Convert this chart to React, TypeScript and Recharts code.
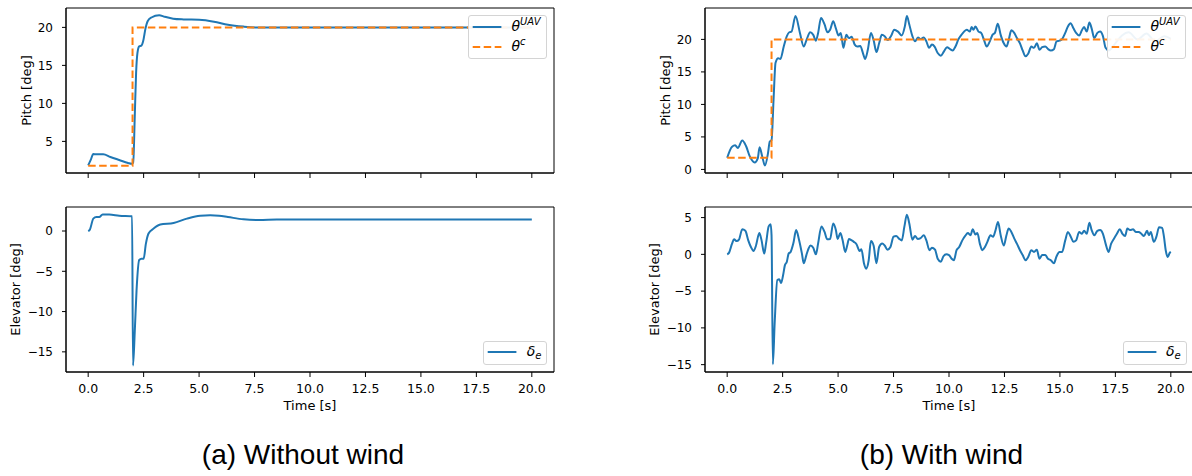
import React from 'react'
import { LineChart, Line, XAxis, YAxis, ReferenceArea } from 'recharts'

const BLUE = '#1f77b4'
const ORANGE = '#ff7f0e'
const FONT = '"DejaVu Sans", sans-serif'

const timeTicks = [0, 2.5, 5, 7.5, 10, 12.5, 15, 17.5, 20]
const timeDomain = [-1, 21]

// (a) without wind
const calmPitchTime = [0, 0.12, 0.23, 0.37, 0.55, 0.68, 1.0, 1.4, 1.8, 1.95, 2.03, 2.1, 2.16, 2.22, 2.3, 2.4, 2.48, 2.58, 2.68, 2.85, 3.2, 3.45, 3.83, 4.3, 5.0, 5.67, 6.3, 7.0, 7.7, 8.5, 10, 12.5, 15, 17.5, 20]
const calmPitch = [1.84, 2.6, 3.34, 3.3, 3.3, 3.3, 2.95, 2.55, 2.16, 2.05, 2.2, 8.3, 14.0, 16.6, 17.5, 17.6, 18.2, 19.8, 20.8, 21.3, 21.6, 21.4, 21.15, 21.05, 21.0, 20.75, 20.35, 20.1, 19.97, 19.97, 20, 20, 20, 20, 20]
const calmCmdTime = [0, 2, 2, 20]
const calmCmd = [1.8, 1.8, 20, 20]
const calmElevTime = [0, 0.08, 0.23, 0.37, 0.5, 0.65, 0.95, 1.4, 1.98, 2.02, 2.1, 2.18, 2.3, 2.4, 2.5, 2.6, 2.72, 2.95, 3.25, 3.85, 4.45, 5.05, 5.5, 5.9, 6.3, 7.0, 7.7, 8.5, 10, 12.5, 15, 17.5, 20]
const calmElev = [0, 0.2, 1.54, 1.74, 1.74, 2.04, 2.04, 1.9, 1.83, -16.7, -12.5, -7.4, -3.6, -3.45, -3.45, -1.6, -0.3, 0.3, 0.8, 1.0, 1.54, 1.9, 1.95, 1.9, 1.74, 1.45, 1.37, 1.42, 1.43, 1.43, 1.43, 1.43, 1.43]

// (b) with wind
const windPitchTime = [0, 0.22, 0.36, 0.48, 0.68, 0.85, 1.02, 1.24, 1.38, 1.46, 1.58, 1.7, 1.84, 1.92, 2.0, 2.09, 2.18, 2.3, 2.4, 2.55, 2.69, 2.8, 2.9, 3.08, 3.28, 3.45, 3.59, 3.74, 3.88, 4.0, 4.1, 4.23, 4.39, 4.52, 4.64, 4.78, 4.9, 5.02, 5.12, 5.24, 5.37, 5.49, 5.61, 5.75, 5.87, 6.0, 6.12, 6.22, 6.34, 6.48, 6.6, 6.73, 6.85, 6.97, 7.1, 7.24, 7.4, 7.53, 7.7, 7.87, 8.01, 8.1, 8.21, 8.35, 8.47, 8.6, 8.72, 8.86, 8.98, 9.1, 9.23, 9.35, 9.49, 9.63, 9.78, 9.91, 10.05, 10.17, 10.29, 10.43, 10.56, 10.68, 10.8, 10.94, 11.02, 11.1, 11.19, 11.33, 11.45, 11.58, 11.7, 11.84, 11.96, 12.07, 12.2, 12.33, 12.47, 12.59, 12.69, 12.81, 12.94, 13.06, 13.2, 13.32, 13.45, 13.57, 13.71, 13.83, 13.96, 14.08, 14.2, 14.34, 14.47, 14.59, 14.73, 14.85, 14.98, 15.1, 15.24, 15.36, 15.48, 15.61, 15.73, 15.87, 15.99, 16.09, 16.21, 16.33, 16.43, 16.55, 16.69, 16.81, 16.94, 17.06, 17.2, 17.5, 17.8, 18.1, 18.5, 18.9, 19.3, 19.7, 20.0]
const windPitch = [1.8, 3.5, 3.7, 3.3, 4.46, 3.6, 2.0, 1.08, 1.7, 3.4, 2.0, 0.6, 2.5, 4.3, 4.5, 10.7, 16.4, 17.1, 17.0, 18.9, 20.5, 21.1, 21.2, 23.6, 21.0, 18.9, 20.05, 21.1, 20.7, 19.8, 21.0, 23.3, 22.3, 21.1, 21.5, 22.8, 21.7, 20.6, 21.0, 18.7, 20.7, 20.2, 20.4, 19.2, 18.9, 19.0, 17.9, 17.0, 18.4, 21.0, 19.9, 18.05, 19.4, 20.7, 20.5, 19.9, 20.6, 21.5, 21.2, 20.6, 22.0, 23.6, 22.3, 20.5, 19.7, 20.3, 20.05, 20.3, 19.7, 18.7, 19.2, 18.9, 17.9, 17.5, 18.2, 18.8, 18.5, 18.3, 18.9, 20.05, 20.7, 21.2, 21.5, 21.2, 21.9, 21.5, 22.0, 21.2, 21.0, 19.9, 18.9, 19.7, 20.7, 21.0, 22.4, 20.7, 19.4, 18.9, 19.9, 21.4, 21.0, 20.2, 19.4, 18.3, 17.4, 17.8, 18.9, 18.7, 19.4, 18.4, 18.8, 18.9, 18.5, 18.3, 18.5, 19.7, 19.8, 20.05, 21.0, 22.0, 22.5, 21.7, 21.0, 20.6, 21.4, 21.9, 21.2, 22.6, 21.7, 20.2, 21.0, 21.2, 20.5, 18.7, 18.3, 19.4, 20.6, 21.1, 20.0, 20.9, 19.7, 20.5, 20.1]
const windCmdTime = [0, 2, 2, 20]
const windCmd = [1.8, 1.8, 20, 20]
const windElevTime = [0, 0.08, 0.22, 0.31, 0.43, 0.53, 0.68, 0.82, 0.95, 1.07, 1.19, 1.29, 1.45, 1.55, 1.67, 1.75, 1.87, 1.96, 2.0, 2.06, 2.14, 2.26, 2.35, 2.43, 2.52, 2.6, 2.69, 2.77, 2.86, 2.98, 3.11, 3.23, 3.37, 3.45, 3.57, 3.67, 3.76, 3.88, 4.0, 4.1, 4.25, 4.39, 4.51, 4.64, 4.78, 4.9, 4.98, 5.1, 5.2, 5.32, 5.41, 5.49, 5.61, 5.71, 5.83, 5.97, 6.05, 6.17, 6.26, 6.38, 6.48, 6.6, 6.73, 6.85, 6.99, 7.1, 7.23, 7.36, 7.5, 7.62, 7.76, 7.87, 7.99, 8.1, 8.21, 8.35, 8.47, 8.59, 8.72, 8.86, 8.98, 9.12, 9.23, 9.37, 9.49, 9.63, 9.75, 9.88, 10.0, 10.12, 10.22, 10.34, 10.46, 10.6, 10.73, 10.85, 10.97, 11.07, 11.19, 11.28, 11.39, 11.5, 11.62, 11.73, 11.87, 11.99, 12.09, 12.21, 12.33, 12.47, 12.59, 12.69, 12.81, 12.95, 13.06, 13.2, 13.32, 13.45, 13.57, 13.71, 13.83, 13.96, 14.08, 14.2, 14.34, 14.46, 14.59, 14.73, 14.85, 14.98, 15.1, 15.24, 15.36, 15.49, 15.61, 15.73, 15.87, 15.99, 16.09, 16.21, 16.33, 16.43, 16.55, 16.69, 16.81, 16.94, 17.06, 17.19, 17.31, 17.43, 17.57, 17.7, 17.82, 17.94, 18.04, 18.16, 18.3, 18.42, 18.55, 18.67, 18.79, 18.93, 19.01, 19.1, 19.23, 19.35, 19.47, 19.61, 19.69, 19.77, 19.86, 19.95, 20.0]
const windElev = [0, 0.2, 1.46, 2.05, 1.8, 2.0, 3.4, 3.2, 1.9, 1.0, 0.46, 1.1, 2.9, 1.9, 0.1, 1.46, 3.8, 4.1, 2.6, -14.95, -9.4, -3.5, -3.4, -3.9, -2.85, -1.5, -1.0, 0.1, 0.33, 1.46, 3.3, 2.1, 0.1, -1.2, -0.1, 0.8, 1.2, 0.9, 0.0, 1.5, 3.8, 3.05, 2.05, 2.1, 4.2, 3.3, 2.1, 2.9, 2.0, 0.33, 1.2, 2.1, 1.9, 1.7, 1.37, 0.46, 0.7, -1.26, -1.95, -0.8, 1.8, 1.2, -1.2, 1.0, 1.46, 1.2, 0.64, 1.0, 2.4, 2.5, 2.1, 1.9, 3.8, 5.4, 4.2, 2.0, 2.5, 2.1, 2.2, 2.6, 1.9, 0.56, 0.9, 0.64, -0.6, -1.0, -0.26, 0.0, -0.1, -0.6, -0.8, 0.56, 1.0, 1.9, 2.5, 2.9, 2.6, 3.4, 2.7, 2.9, 1.46, 0.56, 1.0, 1.7, 2.6, 2.4, 3.2, 4.4, 2.6, 1.2, 2.6, 3.5, 3.05, 2.1, 1.46, 0.56, -0.1, -0.8, -0.35, 0.56, 0.33, 0.64, -0.6, -0.1, -0.1, -0.6, -0.8, -1.2, -0.26, 0.33, 0.33, 1.9, 3.05, 2.4, 1.7, 1.9, 3.05, 2.8, 3.2, 2.8, 4.3, 3.3, 2.6, 3.2, 3.3, 2.8, 1.46, 0.33, 1.46, 2.1, 2.8, 3.4, 2.8, 2.5, 3.5, 3.3, 3.4, 3.05, 3.05, 2.8, 2.5, 3.2, 2.6, 3.05, 1.7, 2.4, 3.7, 3.6, 2.4, 0.56, -0.35, 0.2, 0.33]

const zip = (ts: number[], vs: number[]) => ts.map((t, i) => ({ t, v: vs[i] }))

const minus = (v: number) => String(v).replace('-', '\u2212')

type Series = { data: { t: number; v: number }[]; color: string; dash?: string; step?: boolean }
type Item = { color: string; dash?: string; base: string; sup?: string; sub?: string }

const pitchItems: Item[] = [
  { color: BLUE, base: 'θ', sup: 'UAV' },
  { color: ORANGE, dash: '7.5 3.5', base: 'θ', sup: 'c' },
]
const elevItems: Item[] = [{ color: BLUE, base: 'δ', sub: 'e' }]

function LegendBox({ items, pos }: { items: Item[]; pos: { left: number; top: number; width: number } }) {
  return (
    <div
      style={{
        position: 'absolute',
        left: pos.left,
        top: pos.top,
        zIndex: 10,
        width: pos.width,
        boxSizing: 'border-box',
        border: '1px solid #d4d4d4',
        borderRadius: 3,
        backgroundColor: 'rgba(255,255,255,0.92)',
        padding: '0.7px 0 1.6px 0',
        fontFamily: FONT,
        color: '#000',
      }}
    >
      {items.map((it, i) => (
        <div key={i} style={{ height: 20, display: 'flex', alignItems: 'center' }}>
          <svg width={42.4} height={20} style={{ flex: 'none' }}>
            <line x1={3.7} x2={32.4} y1={10} y2={10} stroke={it.color} strokeWidth={2} strokeDasharray={it.dash} />
          </svg>
          <span style={{ fontStyle: 'italic', fontSize: 14, lineHeight: '20px', whiteSpace: 'nowrap' }}>
            {it.base}
            {it.sup && <span style={{ fontSize: 10, position: 'relative', top: -6 }}>{it.sup}</span>}
            {it.sub && <span style={{ fontSize: 10, position: 'relative', top: 3 }}>{it.sub}</span>}
          </span>
        </div>
      ))}
    </div>
  )
}

type PanelProps = {
  left: number
  top: number
  height: number
  yWidth: number
  margin: { top: number; right: number; bottom: number; left: number }
  xHeight: number
  showXLabels: boolean
  yDomain: number[]
  yTicks: number[]
  yLabel: string
  yLabelX: number
  series: Series[]
  items: Item[]
  legendPos: { left: number; top: number; width: number }
}

function Panel(p: PanelProps) {
  return (
    <div style={{ position: 'absolute', left: p.left, top: p.top, width: 600, height: p.height }}>
      <div style={{ position: 'absolute', left: 0, top: 0, zIndex: 1 }}>
        <LineChart width={600} height={p.height} margin={p.margin}>
          <XAxis
            dataKey="t"
            type="number"
            domain={timeDomain}
            ticks={timeTicks}
            allowDataOverflow
            height={p.xHeight}
            stroke="#000"
            tickSize={5}
            tickMargin={7}
            tick={{ fill: '#000', fontSize: 12.5, fontFamily: FONT }}
            tickFormatter={(v: number) => (p.showXLabels ? v.toFixed(1) : '')}
            label={
              p.showXLabels
                ? { value: 'Time [s]', position: 'insideBottom', offset: 6.7, style: { fill: '#000', fontSize: 13, fontFamily: FONT } }
                : undefined
            }
          />
          <YAxis
            type="number"
            domain={p.yDomain}
            ticks={p.yTicks}
            allowDataOverflow
            width={p.yWidth}
            stroke="#000"
            tickSize={4}
            tickMargin={9}
            tick={{ fill: '#000', fontSize: 12, fontFamily: FONT }}
            tickFormatter={minus}
            label={{
              value: p.yLabel,
              angle: -90,
              position: 'insideLeft',
              offset: p.yLabelX,
              style: { textAnchor: 'middle', fill: '#000', fontSize: 13, fontFamily: FONT },
            }}
          />
          <ReferenceArea
            x1={timeDomain[0]}
            x2={timeDomain[1]}
            y1={p.yDomain[0]}
            y2={p.yDomain[1]}
            fill="none"
            stroke="#000"
            strokeWidth={1}
            ifOverflow="visible"
          />
          {p.series.map((s, i) => (
            <Line
              key={i}
              data={s.data}
              dataKey="v"
              type={s.step ? 'linear' : 'monotone'}
              stroke={s.color}
              strokeWidth={2}
              strokeDasharray={s.dash}
              dot={false}
              activeDot={false}
              isAnimationActive={false}
            />
          ))}
        </LineChart>
      </div>
      <LegendBox items={p.items} pos={p.legendPos} />
    </div>
  )
}

const captionStyle: React.CSSProperties = {
  position: 'absolute',
  top: 441,
  width: 400,
  textAlign: 'center',
  fontFamily: '"Liberation Sans", Arial, sans-serif',
  fontSize: 28,
  lineHeight: '28px',
  color: '#000',
}

export default function App() {
  return (
    <div style={{ position: 'absolute', left: 0, top: 0, width: 1192, height: 476, overflow: 'hidden', background: '#fff' }}>
      <Panel
        left={0}
        top={0}
        height={200}
        yWidth={66}
        margin={{ top: 8, right: 46, bottom: 0, left: 0 }}
        xHeight={27}
        showXLabels={false}
        yDomain={[0.84, 22.55]}
        yTicks={[5, 10, 15, 20]}
        yLabel="Pitch [deg]"
        yLabelX={26.7}
        series={[
          { data: zip(calmPitchTime, calmPitch), color: BLUE },
          { data: zip(calmCmdTime, calmCmd), color: ORANGE, dash: '7.5 3.5', step: true },
        ]}
        items={pitchItems}
        legendPos={{ left: 468, top: 15, width: 79 }}
      />
      <Panel
        left={0}
        top={190}
        height={230}
        yWidth={66}
        margin={{ top: 17, right: 46, bottom: 3, left: 0 }}
        xHeight={45}
        showXLabels
        yDomain={[-17.5, 2.98]}
        yTicks={[-15, -10, -5, 0]}
        yLabel="Elevator [deg]"
        yLabelX={15}
        series={[{ data: zip(calmElevTime, calmElev), color: BLUE }]}
        items={elevItems}
        legendPos={{ left: 483.3, top: 150.7, width: 64 }}
      />
      <Panel
        left={600}
        top={0}
        height={200}
        yWidth={105}
        margin={{ top: 8, right: 7, bottom: 0, left: 0 }}
        xHeight={27}
        showXLabels={false}
        yDomain={[-0.55, 24.83]}
        yTicks={[0, 5, 10, 15, 20]}
        yLabel="Pitch [deg]"
        yLabelX={65}
        series={[
          { data: zip(windPitchTime, windPitch), color: BLUE },
          { data: zip(windCmdTime, windCmd), color: ORANGE, dash: '7.5 3.5', step: true },
        ]}
        items={pitchItems}
        legendPos={{ left: 507, top: 15, width: 79 }}
      />
      <Panel
        left={600}
        top={190}
        height={230}
        yWidth={105}
        margin={{ top: 17, right: 7, bottom: 3, left: 0 }}
        xHeight={45}
        showXLabels
        yDomain={[-16.0, 6.44]}
        yTicks={[-15, -10, -5, 0, 5]}
        yLabel="Elevator [deg]"
        yLabelX={54}
        series={[{ data: zip(windElevTime, windElev), color: BLUE }]}
        items={elevItems}
        legendPos={{ left: 522.5, top: 150.7, width: 64 }}
      />
      <div style={{ ...captionStyle, left: 303 - 200 }}>(a) Without wind</div>
      <div style={{ ...captionStyle, left: 941.5 - 200 }}>(b) With wind</div>
    </div>
  )
}
